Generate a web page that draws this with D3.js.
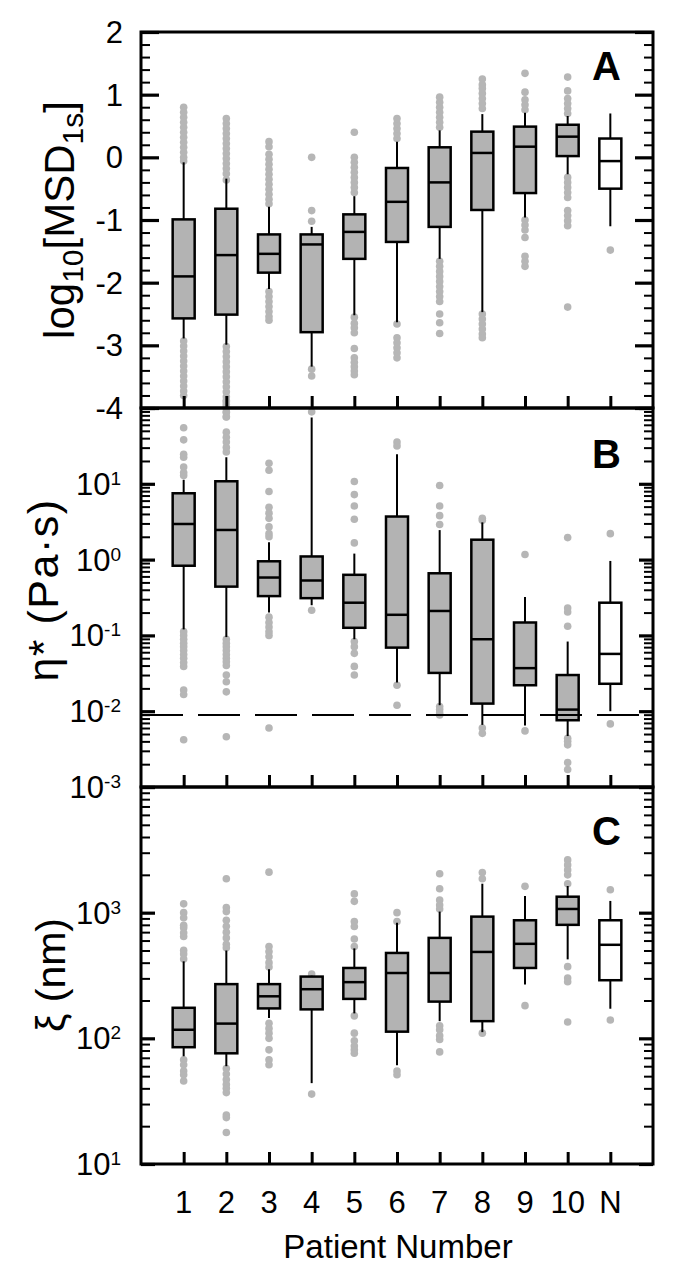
<!DOCTYPE html>
<html><head><meta charset="utf-8">
<script src="https://cdn.jsdelivr.net/npm/d3@7"></script>
<style>
body{margin:0;background:#fff}
svg{display:block}
text{font-family:"Liberation Sans",Arial,Helvetica,sans-serif;fill:#000}
</style>
</head><body>
<svg id="chart" width="675" height="1276"></svg>
<script>
const categories = ["1","2","3","4","5","6","7","8","9","10","N"];
const normalIndex = 10;

// Panel A: log10[MSD1s]
const aWhiskerHigh = [-0.08, -0.34, -0.79, -1.11, -0.62, 0.25, 0.43, 0.69, 0.71, 0.66, 0.70];
const aQ3          = [-0.99, -0.82, -1.23, -1.23, -0.91, -0.17, 0.16, 0.41, 0.49, 0.52, 0.30];
const aMedian      = [-1.90, -1.56, -1.54, -1.39, -1.19, -0.71, -0.40, 0.07, 0.17, 0.33, -0.06];
const aQ1          = [-2.57, -2.51, -1.84, -2.79, -1.62, -1.35, -1.11, -0.84, -0.57, 0.02, -0.50];
const aWhiskerLow  = [-2.89, -2.99, -2.10, -3.34, -2.52, -2.63, -1.62, -2.47, -0.96, -0.27, -1.10];
const aOutliers = [
  [0.80,0.72,0.64,0.56,0.48,0.40,0.32,0.24,0.16,0.08,0.00,-0.06,-2.93,-3.01,-3.09,-3.17,-3.25,-3.33,-3.41,-3.49,-3.57,-3.65,-3.73,-3.80],
  [0.62,0.54,0.46,0.38,0.30,0.22,0.14,0.06,-0.02,-0.10,-0.18,-0.26,-0.36,-3.02,-3.10,-3.18,-3.26,-3.34,-3.42,-3.50,-3.58,-3.66,-3.74,-3.82,-3.90,-3.98,-4.06,-4.14],
  [0.25,0.17,0.05,-0.03,-0.11,-0.19,-0.27,-0.35,-0.43,-0.51,-0.59,-0.67,-0.74,-2.14,-2.22,-2.30,-2.38,-2.46,-2.54,-2.60],
  [0.00,-0.85,-1.02,-3.38,-3.49],
  [0.40,0.00,-0.08,-0.16,-0.24,-0.32,-0.40,-0.48,-0.56,-2.55,-2.65,-2.72,-2.80,-3.05,-3.20,-3.27,-3.34,-3.41,-3.47],
  [0.30,0.38,0.46,0.54,0.62,-2.66,-2.88,-2.96,-3.04,-3.12,-3.20],
  [0.48,0.56,0.64,0.72,0.80,0.88,0.96,-1.66,-1.74,-1.82,-1.90,-1.98,-2.06,-2.14,-2.22,-2.30,-2.50,-2.64,-2.81],
  [0.78,0.86,0.94,1.02,1.10,1.16,1.25,-2.50,-2.58,-2.66,-2.74,-2.82,-2.88],
  [0.76,0.84,0.92,1.04,1.34,-1.00,-1.08,-1.16,-1.28,-1.58,-1.66,-1.74],
  [0.70,0.78,0.86,0.94,1.06,1.28,-0.32,-0.40,-0.48,-0.56,-0.64,-0.85,-0.93,-1.01,-1.09,-2.39],
  [-1.48]
];

// Panel B: eta* (Pa·s)
const bWhiskerHigh = [11.3, 22.4, 1.7, 75, 1.2, 24.5, 2.45, 3.1, 0.32, 0.083, 0.96];
const bQ3          = [7.5, 10.8, 0.95, 1.1, 0.63, 3.7, 0.66, 1.83, 0.148, 0.030, 0.27];
const bMedian      = [2.95, 2.46, 0.58, 0.53, 0.27, 0.187, 0.21, 0.089, 0.037, 0.0105, 0.057];
const bQ1          = [0.83, 0.44, 0.33, 0.31, 0.126, 0.069, 0.032, 0.0126, 0.022, 0.0076, 0.023];
const bWhiskerLow  = [0.12, 0.095, 0.2, 0.25, 0.089, 0.024, 0.012, 0.0066, 0.0065, 0.0047, 0.010];
const bOutliers = [
  [55,38,24.5,22.4,16.6,14.1,12.9,0.112,0.1,0.089,0.079,0.071,0.063,0.056,0.05,0.044,0.039,0.019,0.0166,0.0042],
  [126,112,100,87,76,48,41,35.5,30.2,26.3,0.089,0.079,0.071,0.063,0.056,0.05,0.045,0.04,0.030,0.0245,0.018,0.0046],
  [18.6,15.1,7.9,4.9,4.1,3.5,2.7,2.2,2.0,0.174,0.148,0.129,0.112,0.1,0.006],
  [89,0.215],
  [10.7,7.2,5.1,3.4,1.66,0.083,0.071,0.058,0.039,0.030],
  [35.5,31.6,0.022,0.012],
  [9.5,5.1,3.8,2.9,0.0115,0.0105,0.0095,0.0089],
  [3.5,3.3,0.006,0.0051],
  [1.17,0.0055],
  [1.95,0.229,0.204,0.132,0.0044,0.004,0.0036,0.0021,0.0017],
  [2.2,0.0068]
];
const waterViscosity = 0.0089;

// Panel C: xi (nm)
const cWhiskerHigh = [410, 500, 355, 315, 520, 830, 1020, 1700, 1360, 1630, 1240];
const cQ3          = [175, 270, 270, 310, 363, 478, 630, 930, 870, 1340, 870];
const cMedian      = [117, 131, 216, 246, 280, 331, 331, 487, 565, 1070, 555];
const cQ1          = [85, 76, 173, 170, 206, 113, 196, 137, 363, 800, 290];
const cWhiskerLow  = [72, 60, 145, 44, 158, 61, 137, 112, 268, 425, 172];
const cOutliers = [
  [1175,1000,912,794,759,692,646,501,468,427,67.6,61.7,55,51.3,45.7],
  [1860,1100,1020,871,780,700,630,560,525,57.5,52,47,43,40,37,24.5,23.4,17.8],
  [2100,537,490,445,400,370,132,120,110,100,81,67.6,61.7],
  [325,36],
  [1410,1230,850,776,617,537,151,110,95.5,87,81,76],
  [1000,851,55,51.3],
  [2040,1550,1260,1150,1070,126,117,105,98,78],
  [2090,1860,110],
  [1620,182],
  [2630,2400,2190,2000,1700,372,302,282,135],
  [1520,140]
];

// tick labels
const aTickLabels = [-4,-3,-2,-1,0,1,2];
const bTickExponents = [-3,-2,-1,0,1];
const cTickExponents = [1,2,3];
const xTitle = "Patient Number";

// ---------- layout ----------
const svg = d3.select("#chart");
const L = 141, R = 653;
const x = d3.scaleLinear().domain([0, 12]).range([L, R]);
const panels = [
  {key:"A", top:32, bottom:408},
  {key:"B", top:408, bottom:787},
  {key:"C", top:787, bottom:1164}
];
const yA = d3.scaleLinear().domain([-4, 2]).range([408, 32]);
const yB = d3.scaleLog().domain([1e-3, 1e2]).range([787, 408]);
const yC = d3.scaleLog().domain([10, 1e4]).range([1164, 787]);

const BOX_FILL = "#b3b3b3", DOT = "#b6b6b6", HALF = 11;

function drawBoxes(y, wl, q1, med, q3, wh, outs) {
  const g = svg.append("g");
  categories.forEach((c, i) => {
    const cx = x(i + 1);
    g.selectAll(null).data(outs[i]).join("circle")
      .attr("cx", cx).attr("cy", d => y(d)).attr("r", 3.8).attr("fill", DOT);
  });
  categories.forEach((c, i) => {
    const cx = x(i + 1);
    g.append("line").attr("x1", cx).attr("x2", cx).attr("y1", y(q3[i])).attr("y2", y(wh[i]))
      .attr("stroke", "#000").attr("stroke-width", 2);
    g.append("line").attr("x1", cx).attr("x2", cx).attr("y1", y(q1[i])).attr("y2", y(wl[i]))
      .attr("stroke", "#000").attr("stroke-width", 2);
    g.append("rect").attr("x", cx - HALF).attr("width", 2 * HALF)
      .attr("y", y(q3[i])).attr("height", y(q1[i]) - y(q3[i]))
      .attr("fill", i === normalIndex ? "#fff" : BOX_FILL)
      .attr("stroke", "#000").attr("stroke-width", 2.5);
    g.append("line").attr("x1", cx - HALF).attr("x2", cx + HALF)
      .attr("y1", y(med[i])).attr("y2", y(med[i]))
      .attr("stroke", "#000").attr("stroke-width", 2.5);
  });
}

drawBoxes(yA, aWhiskerLow, aQ1, aMedian, aQ3, aWhiskerHigh, aOutliers);
drawBoxes(yB, bWhiskerLow, bQ1, bMedian, bQ3, bWhiskerHigh, bOutliers);
drawBoxes(yC, cWhiskerLow, cQ1, cMedian, cQ3, cWhiskerHigh, cOutliers);

// water viscosity dashed line
svg.append("line").attr("x1", L).attr("x2", R)
  .attr("y1", yB(waterViscosity)).attr("y2", yB(waterViscosity))
  .attr("stroke", "#000").attr("stroke-width", 2).attr("stroke-dasharray", "42,15");

// ---------- axes (ticks inward) ----------
function yTicks(scale, majors, minors, majLen, minLen) {
  [[majors, majLen, 3.2], [minors, minLen, 2]].forEach(([vals, len, sw]) => {
    svg.append("g").attr("transform", `translate(${L},0)`)
      .call(d3.axisLeft(scale).tickValues(vals).tickSize(-len).tickFormat(""))
      .call(g => { g.select(".domain").remove(); g.selectAll("line").attr("stroke-width", sw); });
    svg.append("g").attr("transform", `translate(${R},0)`)
      .call(d3.axisRight(scale).tickValues(vals).tickSize(-len).tickFormat(""))
      .call(g => { g.select(".domain").remove(); g.selectAll("line").attr("stroke-width", sw); });
  });
}
const aMinor = d3.range(-40, 21, 2).map(v => v / 10).filter(v => !Number.isInteger(v));
yTicks(yA, aTickLabels, aMinor, 18, 9);
function logMinors(e0, e1) {
  const out = [];
  for (let e = e0; e < e1; e++) for (let m = 2; m <= 9; m++) out.push(m * Math.pow(10, e));
  return out;
}
yTicks(yB, [1e-3,1e-2,1e-1,1,10,100], logMinors(-3, 2), 14, 9);
yTicks(yC, [10,100,1000,10000], logMinors(1, 4), 14, 9);

// category ticks at bottom of each panel
panels.forEach(p => {
  svg.append("g").attr("transform", `translate(0,${p.bottom})`)
    .call(d3.axisBottom(x).tickValues(d3.range(1, 12)).tickSize(-12).tickFormat(""))
    .call(g => { g.select(".domain").remove(); g.selectAll("line").attr("stroke-width", 3); });
});

// frames
panels.forEach(p => {
  svg.append("rect").attr("x", L).attr("y", p.top).attr("width", R - L).attr("height", p.bottom - p.top)
    .attr("fill", "none").attr("stroke", "#000").attr("stroke-width", 3);
});

// ---------- labels ----------
svg.append("g").selectAll("text").data(aTickLabels).join("text")
  .attr("x", 123).attr("y", d => yA(d) + 11).attr("text-anchor", "end")
  .attr("font-size", 31).text(d => d);

function powLabels(scale, exps) {
  const t = svg.append("g").selectAll("text").data(exps).join("text")
    .attr("x", 121).attr("y", d => scale(Math.pow(10, d)) + 11).attr("text-anchor", "end")
    .attr("font-size", 31);
  t.append("tspan").text("10");
  t.append("tspan").attr("dy", -10).attr("font-size", 19).text(d => d);
}
powLabels(yB, bTickExponents);
powLabels(yC, cTickExponents);

svg.append("g").selectAll("text").data(categories).join("text")
  .attr("x", (d, i) => x(i + 1)).attr("y", 1213).attr("text-anchor", "middle")
  .attr("font-size", 31).text(d => d);
svg.append("text").attr("x", (L + R) / 2 + 1).attr("y", 1258).attr("text-anchor", "middle")
  .attr("font-size", 33).text(xTitle);

// panel letters
[["A", 80], ["B", 468], ["C", 845]].forEach(([t, yy]) => {
  svg.append("text").attr("x", 621).attr("y", yy).attr("text-anchor", "end")
    .attr("font-size", 40).attr("font-weight", "bold").text(t);
});

// y titles
const tA = svg.append("text").attr("transform", "translate(74,220) rotate(-90)")
  .attr("text-anchor", "middle").attr("font-size", 42);
tA.append("tspan").text("log");
tA.append("tspan").attr("font-size", 30).attr("dy", 9).text("10");
tA.append("tspan").attr("dy", -9).text("[MSD");
tA.append("tspan").attr("font-size", 30).attr("dy", 9).text("1s");
tA.append("tspan").attr("dy", -9).text("]");

svg.append("text").attr("transform", "translate(58,590) rotate(-90)")
  .attr("text-anchor", "middle").attr("font-size", 43).attr("letter-spacing", 1.5).text("η* (Pa·s)");
svg.append("text").attr("transform", "translate(65,975) rotate(-90)")
  .attr("text-anchor", "middle").attr("font-size", 41).text("ξ (nm)");
</script>
</body></html>
